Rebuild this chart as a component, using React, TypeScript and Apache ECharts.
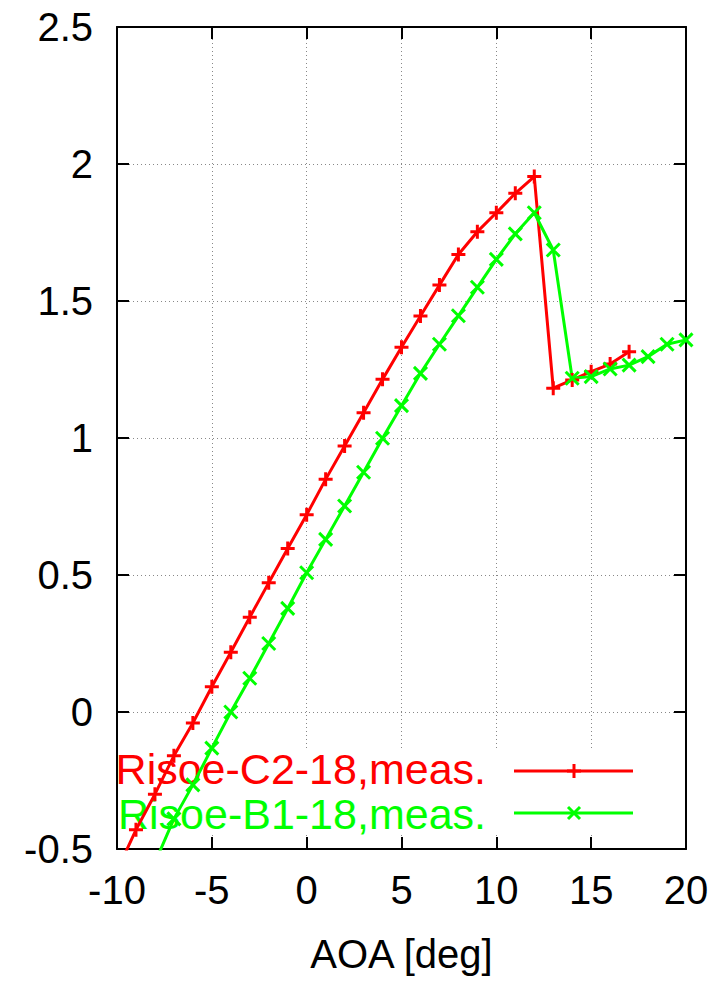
import React, { useEffect, useRef } from "react";
import * as echarts from "echarts";

const aoaRed = [-10, -9, -8, -7, -6, -5, -4, -3, -2, -1, 0, 1, 2, 3, 4, 5, 6, 7, 8, 9, 10, 11, 12, 13, 14, 15, 16, 17];
const clRed = [-0.58, -0.43, -0.3, -0.16, -0.04, 0.092, 0.218, 0.346, 0.472, 0.597, 0.72, 0.849, 0.971, 1.092, 1.214, 1.331, 1.445, 1.558, 1.67, 1.753, 1.822, 1.893, 1.954, 1.182, 1.212, 1.242, 1.27, 1.315];

const aoaGreen = [-8, -7, -6, -5, -4, -3, -2, -1, 0, 1, 2, 3, 4, 5, 6, 7, 8, 9, 10, 11, 12, 13, 14, 15, 16, 17, 18, 19, 20];
const clGreen = [-0.55, -0.39, -0.266, -0.132, 0.0, 0.123, 0.25, 0.378, 0.508, 0.63, 0.752, 0.875, 0.999, 1.118, 1.236, 1.342, 1.446, 1.55, 1.652, 1.745, 1.822, 1.686, 1.218, 1.224, 1.252, 1.266, 1.297, 1.342, 1.358];

const seriesNames = ["Risoe-C2-18,meas.", "Risoe-B1-18,meas."];
const seriesColors = ["#ff0000", "#00ff00"];
const xAxisName = "AOA [deg]";

const FONT = "'Liberation Sans', Arial, Helvetica, sans-serif";

export default function App() {
  const ref = useRef<HTMLDivElement>(null);
  useEffect(() => {
    if (!ref.current) return;
    const chart = echarts.init(ref.current, null, { renderer: "svg" });
    const axisLine = { show: true, onZero: false, lineStyle: { color: "#000", width: 2 } };
    const axisTick = { show: true, inside: true, length: 12, lineStyle: { color: "#000", width: 2 } };
    const gridLine = { show: true, lineStyle: { color: "#888", type: [1, 3], width: 1 } };
    const frameAxis = {
      axisLine,
      axisTick,
      splitLine: { show: false },
      axisLabel: { show: false },
    };
    const plus = "path://M7,0 L7,14 M0,7 L14,7";
    const cross = "path://M0,0 L14,14 M14,0 L0,14";
    const mk = (cx: number, cy: number, kind: "plus" | "cross", color: string) => {
      const r = 7;
      const segs =
        kind === "plus"
          ? [
              [cx - r, cy, cx + r, cy],
              [cx, cy - r, cx, cy + r],
            ]
          : [
              [cx - r + 1, cy - r + 1, cx + r - 1, cy + r - 1],
              [cx - r + 1, cy + r - 1, cx + r - 1, cy - r + 1],
            ];
      return segs.map((s) => ({
        type: "line",
        z: 3,
        shape: { x1: s[0], y1: s[1], x2: s[2], y2: s[3] },
        style: { stroke: color, lineWidth: 3 },
      }));
    };
    chart.setOption({
      animation: false,
      backgroundColor: "#fff",
      grid: { left: 117, right: 32, top: 27, bottom: 136 },
      xAxis: [
        {
          type: "value",
          min: -10,
          max: 20,
          interval: 5,
          name: xAxisName,
          nameLocation: "middle",
          nameGap: 85,
          nameTextStyle: { fontFamily: FONT, fontSize: 40, color: "#000" },
          axisLine,
          axisTick,
          axisLabel: { fontFamily: FONT, fontSize: 40, color: "#000", margin: 21 },
          splitLine: gridLine,
        },
        { type: "value", position: "top", min: -10, max: 20, interval: 5, ...frameAxis },
      ],
      yAxis: [
        {
          type: "value",
          min: -0.5,
          max: 2.5,
          interval: 0.5,
          axisLine,
          axisTick,
          axisLabel: { fontFamily: FONT, fontSize: 40, color: "#000", margin: 24 },
          splitLine: gridLine,
        },
        { type: "value", position: "right", min: -0.5, max: 2.5, interval: 0.5, ...frameAxis },
      ],
      series: [
        {
          name: seriesNames[0],
          type: "line",
          z: 4,
          silent: true,
          data: aoaRed.map((a, i) => [a, clRed[i]]),
          symbol: plus,
          symbolSize: 14,
          showAllSymbol: true,
          lineStyle: { color: seriesColors[0], width: 3 },
          itemStyle: { color: seriesColors[0], borderColor: seriesColors[0], borderWidth: 3 },
        },
        {
          name: seriesNames[1],
          type: "line",
          z: 4,
          silent: true,
          data: aoaGreen.map((a, i) => [a, clGreen[i]]),
          symbol: cross,
          symbolSize: 13,
          showAllSymbol: true,
          lineStyle: { color: seriesColors[1], width: 3 },
          itemStyle: { color: seriesColors[1], borderColor: seriesColors[1], borderWidth: 3 },
        },
      ],
      graphic: [
        {
          type: "rect",
          z: 1,
          shape: { x: 119, y: 748, width: 530, height: 87 },
          style: { fill: "#fff" },
          silent: true,
        },
        {
          type: "text",
          z: 2,
          x: 486,
          y: 769,
          style: {
            text: seriesNames[0],
            fill: seriesColors[0],
            font: `43px ${FONT}`,
            lineHeight: 40,
            align: "right",
            verticalAlign: "middle",
          },
        },
        {
          type: "text",
          z: 2,
          x: 486,
          y: 814,
          style: {
            text: seriesNames[1],
            fill: seriesColors[1],
            font: `43px ${FONT}`,
            lineHeight: 40,
            align: "right",
            verticalAlign: "middle",
          },
        },
        {
          type: "line",
          z: 3,
          shape: { x1: 514, y1: 771, x2: 633, y2: 771 },
          style: { stroke: seriesColors[0], lineWidth: 3 },
        },
        ...mk(574, 771, "plus", seriesColors[0]),
        {
          type: "line",
          z: 3,
          shape: { x1: 514, y1: 813, x2: 633, y2: 813 },
          style: { stroke: seriesColors[1], lineWidth: 3 },
        },
        ...mk(574, 813, "cross", seriesColors[1]),
      ],
    });
    return () => chart.dispose();
  }, []);
  return (
    <div
      ref={ref}
      style={{ position: "absolute", left: 0, top: 0, width: 718, height: 985 }}
    />
  );
}
